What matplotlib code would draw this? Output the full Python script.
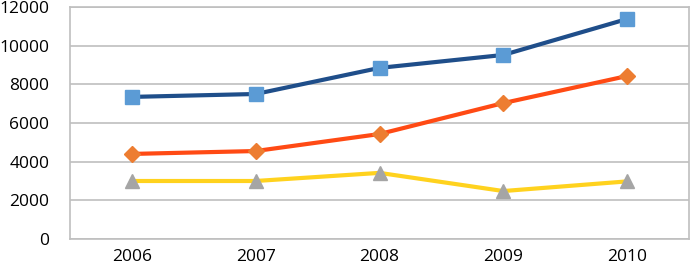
import numpy as np
import matplotlib.pyplot as plt

plt.rcParams['font.family'] = ['Open Sans', 'DejaVu Sans']

years = ['2006', '2007', '2008', '2009', '2010']
series_a = [7350, 7500, 8850, 9520, 11380]
series_b = [4400, 4550, 5430, 7030, 8430]
series_c = [3000, 3000, 3420, 2480, 2980]

fig = plt.figure(figsize=(6.9, 2.73), dpi=100)
ax = fig.add_axes([70/690, 34/273, 619/690, 232/273])

x = np.arange(len(years))
ax.plot(x, series_a, color='#1F4E8A', lw=3, marker='s', ms=10,
        mfc='#5B9BD5', mec='#5B9BD5', zorder=3)
ax.plot(x, series_b, color='#FF4A14', lw=3, marker='D', ms=8,
        mfc='#ED7D31', mec='#ED7D31', zorder=3)
ax.plot(x, series_c, color='#FFD21E', lw=3, marker='^', ms=10,
        mfc='#A5A5A5', mec='#A5A5A5', zorder=3)

ax.set_xlim(-0.5, 4.5)
ax.set_ylim(0, 12000)
ax.set_yticks(np.arange(0, 12001, 2000))
ax.set_xticks(x)
ax.set_xticklabels(years)
ax.grid(axis='y', color='#BFBFBF', lw=1.2)
ax.set_axisbelow(True)
for s in ax.spines.values():
    s.set_color('#BFBFBF')
    s.set_linewidth(1.2)
ax.tick_params(length=0, labelsize=12.5, pad=7)
ax.tick_params(axis='y', pad=15)

fig.savefig('out.png', dpi=100)
